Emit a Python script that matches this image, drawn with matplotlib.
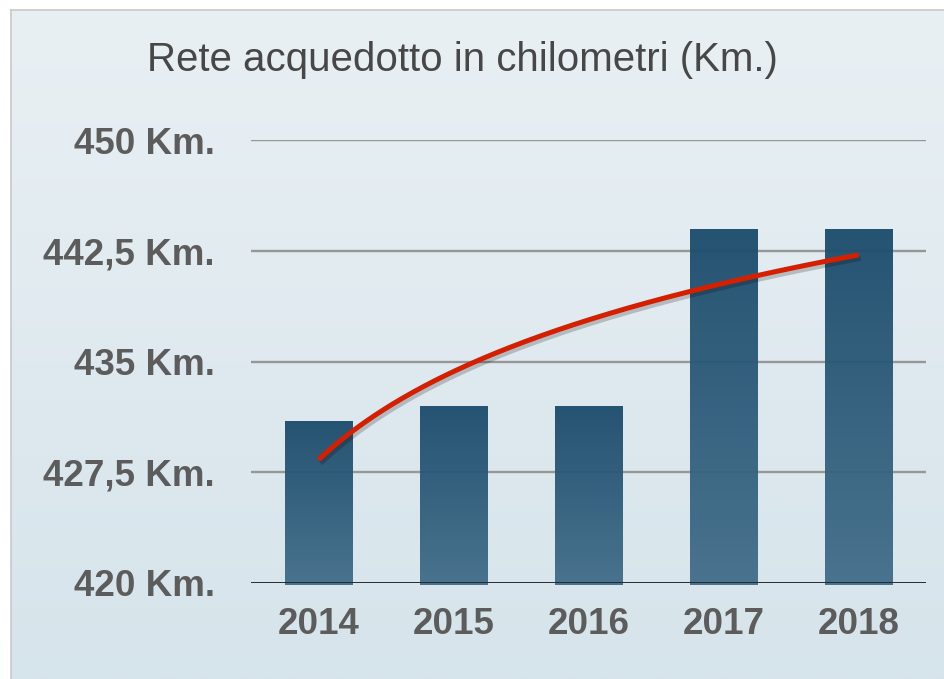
import numpy as np
import matplotlib
matplotlib.use("Agg")
import matplotlib.pyplot as plt
from matplotlib.colors import LinearSegmentedColormap
import matplotlib.patheffects as pe

# Data
years = ["2014", "2015", "2016", "2017", "2018"]
km_values = [431, 432, 432, 444, 444]
y_ticks = [420, 427.5, 435, 442.5, 450]
y_tick_labels = ["420 Km.", "427,5 Km.", "435 Km.", "442,5 Km.", "450 Km."]
title = "Rete acquedotto in chilometri (Km.)"

plt.rcParams['font.family'] = ['Liberation Sans', 'DejaVu Sans']

W, H = 944, 679
fig = plt.figure(figsize=(W / 100, H / 100), dpi=100)
fig.patch.set_facecolor("white")

# Background panel with gradient
bg = fig.add_axes([11 / W, 0, 1 - 11 / W, (H - 10) / H], zorder=-10)
bg_cmap = LinearSegmentedColormap.from_list("bg", ["#e9f0f4", "#d6e4eb"])
bg.imshow(np.linspace(0, 1, 256).reshape(-1, 1), aspect="auto", cmap=bg_cmap,
          extent=[0, 1, 1, 0])
bg.set_xlim(0, 1)
bg.set_ylim(1, 0)
bg.set_xticks([])
bg.set_yticks([])
for s in ["right", "bottom"]:
    bg.spines[s].set_visible(False)
for s in ["left", "top"]:
    bg.spines[s].set_color("#c8c8c8")
    bg.spines[s].set_linewidth(1.2)

ax = fig.add_axes([251 / W, 1 - 583 / H, (926 - 251) / W, (583 - 140) / H])
ax.patch.set_alpha(0)

x = np.arange(len(years))
ax.set_xlim(-0.5, len(years) - 0.5)
ax.set_ylim(y_ticks[0], y_ticks[-1])

# Grid lines
for yt in y_ticks[1:]:
    ax.axhline(yt, color="#979797", lw=1.7, zorder=1)

# Bars with gradient
bar_cmap = LinearSegmentedColormap.from_list("bar", ["#416d89", "#1b4b6b"])
bars = ax.bar(x, km_values, bottom=0, width=0.5, color="none", zorder=2)
for b, v in zip(bars, km_values):
    x0 = b.get_x()
    x1 = x0 + b.get_width()
    im = ax.imshow(np.linspace(0, 1, 256).reshape(-1, 1), aspect="auto",
                   cmap=bar_cmap, origin="lower",
                   extent=[x0, x1, y_ticks[0] - 0.15, v], zorder=2, alpha=0.95)
    im.set_clip_path(b)
    b.set_clip_on(False)
ax.set_xlim(-0.5, len(years) - 0.5)
ax.set_ylim(y_ticks[0], y_ticks[-1])

# Bottom axis line
ax.axhline(y_ticks[0], color="#2a2a2a", lw=1.4, zorder=3)

# Logarithmic trend line computed from the data
t = np.arange(1, len(years) + 1)
b_coef, a_coef = np.polyfit(np.log(t), km_values, 1)
tt = np.linspace(1, len(years), 200)
ax.plot(tt - 1, a_coef + b_coef * np.log(tt), color="#d42000", lw=3.6,
        solid_capstyle="butt", zorder=4,
        path_effects=[pe.SimpleLineShadow(offset=(1.5, -2.5), alpha=0.2, shadow_color="#000000"),
                      pe.Normal()])

# Ticks
ax.set_yticks(y_ticks)
ax.set_yticklabels(y_tick_labels)
ax.set_xticks(x)
ax.set_xticklabels(years)
ax.tick_params(axis="y", length=0, pad=26, labelsize=26.5, labelcolor="#5c5c5c")
ax.tick_params(axis="x", length=0, pad=17, labelsize=26.5, labelcolor="#5c5c5c")
for lab in ax.get_xticklabels() + ax.get_yticklabels():
    lab.set_fontweight("bold")
for s in ax.spines.values():
    s.set_visible(False)

fig.text(462 / W, 1 - 60 / H, title, ha="center", va="center", fontsize=29,
         color="#474747")

fig.savefig("out.png", dpi=100, facecolor=fig.get_facecolor())
